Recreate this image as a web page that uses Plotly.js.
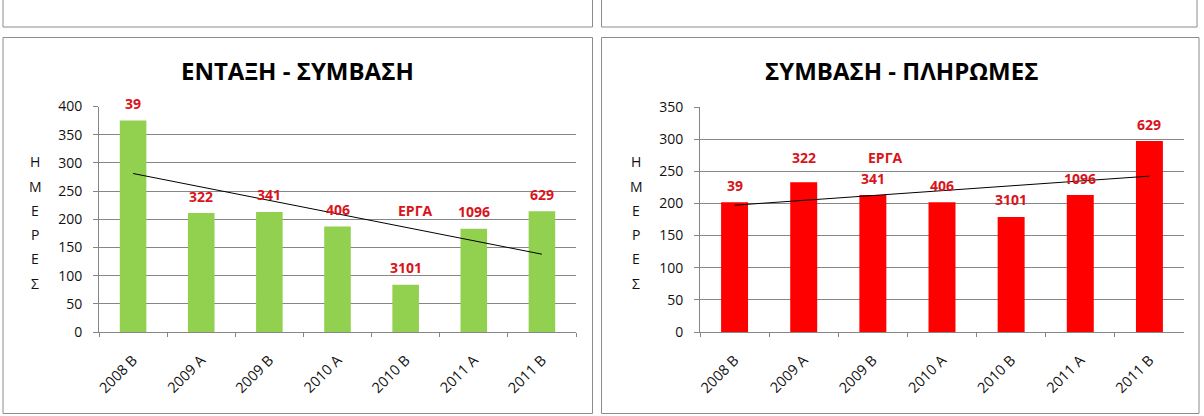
<!DOCTYPE html>
<html>
<head>
<meta charset="utf-8">
<script src="https://cdn.plot.ly/plotly-3.0.1.min.js"></script>
<style>html,body{margin:0;padding:0;background:#fff;}#chart{width:1204px;height:416px;}</style>
</head>
<body>
<div id="chart"></div>
<script>
// ---- data ----
const categories = ['2008 B', '2009 A', '2009 B', '2010 A', '2010 B', '2011 A', '2011 B'];
const entaxiSymvasiDays = [375, 211, 213, 187, 84, 183, 214];
const symvasiPliromesDays = [202, 233, 213, 202, 179, 213, 297];
const projectCounts = ['39', '322', '341', '406', '3101', '1096', '629'];
const leftTitle = 'ΕΝΤΑΞΗ - ΣΥΜΒΑΣΗ';
const rightTitle = 'ΣΥΜΒΑΣΗ - ΠΛΗΡΩΜΕΣ';
const yTitleLetters = ['Η', 'Μ', 'Ε', 'Ρ', 'Ε', 'Σ'];
const projectsWord = 'ΕΡΓΑ';

// ---- helpers ----
const W = 1204, H = 416;
const px = x => x / W;
const py = y => 1 - y / H;
function linearTrend(vals) {
  const n = vals.length;
  const xs = vals.map((_, i) => i);
  const mx = xs.reduce((a, b) => a + b, 0) / n;
  const my = vals.reduce((a, b) => a + b, 0) / n;
  let num = 0, den = 0;
  xs.forEach((x, i) => { num += (x - mx) * (vals[i] - my); den += (x - mx) * (x - mx); });
  const m = num / den, b = my - m * mx;
  return xs.map(x => m * x + b);
}

const FONT = '"Open Sans", "Noto Sans", sans-serif';
const GRID = '#868686';
const LABEL_RED = '#d9141b';
const TEXT = '#111111';

const traces = [
  { type: 'bar', x: categories, y: entaxiSymvasiDays, xaxis: 'x', yaxis: 'y',
    marker: { color: '#92d050' }, width: 0.39, hoverinfo: 'x+y', showlegend: false },
  { type: 'scatter', mode: 'lines', x: categories, y: linearTrend(entaxiSymvasiDays), xaxis: 'x', yaxis: 'y',
    line: { color: '#000000', width: 1 }, showlegend: false, hoverinfo: 'skip' },
  { type: 'bar', x: categories, y: symvasiPliromesDays, xaxis: 'x2', yaxis: 'y2',
    marker: { color: '#ff0000' }, width: 0.39, hoverinfo: 'x+y', showlegend: false },
  { type: 'scatter', mode: 'lines', x: categories, y: linearTrend(symvasiPliromesDays), xaxis: 'x2', yaxis: 'y2',
    line: { color: '#000000', width: 1 }, showlegend: false, hoverinfo: 'skip' }
];

const xCommon = {
  type: 'category', tickangle: -45, showline: true, linecolor: GRID, linewidth: 1,
  ticks: 'outside', ticklen: 4, tickcolor: GRID, tickson: 'boundaries', showgrid: false,
  tickfont: { family: FONT, size: 14.5, color: TEXT }, ticklabelstandoff: 13, fixedrange: true, zeroline: false
};
const yCommon = {
  showline: true, linecolor: GRID, linewidth: 1, ticks: 'outside', ticklen: 5, tickcolor: GRID,
  showgrid: true, gridcolor: GRID, gridwidth: 1, zeroline: false, dtick: 50,
  tickfont: { family: FONT, size: 14, color: TEXT }, ticklabelstandoff: 8, fixedrange: true
};

const annotations = [];
// titles
annotations.push({ xref: 'paper', yref: 'paper', x: px(297), y: py(71), xanchor: 'center', yanchor: 'middle',
  text: leftTitle, showarrow: false, font: { family: FONT, size: 24, color: '#000', weight: 700 } });
annotations.push({ xref: 'paper', yref: 'paper', x: px(901), y: py(71), xanchor: 'center', yanchor: 'middle',
  text: rightTitle, showarrow: false, font: { family: FONT, size: 24, color: '#000', weight: 700 } });
// vertical y titles
yTitleLetters.forEach((ch, i) => {
  [35, 636].forEach(xp => {
    annotations.push({ xref: 'paper', yref: 'paper', x: px(xp), y: py(162 + i * 24.2), xanchor: 'center', yanchor: 'middle',
      text: ch, showarrow: false, font: { family: FONT, size: 14, color: TEXT } });
  });
});
// project count labels
projectCounts.forEach((t, i) => {
  annotations.push({ xref: 'x', yref: 'y', x: i, y: entaxiSymvasiDays[i], yshift: 17, text: t, showarrow: false,
    font: { family: FONT, size: 14, color: LABEL_RED, weight: 700 } });
  annotations.push({ xref: 'x2', yref: 'y2', x: i, y: symvasiPliromesDays[i], yshift: i === 1 ? 25 : 17, text: t, showarrow: false,
    font: { family: FONT, size: 14, color: LABEL_RED, weight: 700 } });
});
annotations.push({ xref: 'x', yref: 'y', x: 4.14, y: 216, text: projectsWord, showarrow: false,
  font: { family: FONT, size: 14, color: LABEL_RED, weight: 700 } });
annotations.push({ xref: 'x2', yref: 'y2', x: 2.18, y: 271, text: projectsWord, showarrow: false,
  font: { family: FONT, size: 14, color: LABEL_RED, weight: 700 } });

const boxLine = { color: '#8c8c8c', width: 1 };
const shapes = [
  { type: 'rect', xref: 'paper', yref: 'paper', x0: px(3), x1: px(592.5), y0: py(413.5), y1: py(37.5), line: boxLine },
  { type: 'rect', xref: 'paper', yref: 'paper', x0: px(601.5), x1: px(1199), y0: py(413.5), y1: py(37.5), line: boxLine },
  { type: 'rect', xref: 'paper', yref: 'paper', x0: px(3), x1: px(592.5), y0: py(27), y1: py(-20), line: boxLine },
  { type: 'rect', xref: 'paper', yref: 'paper', x0: px(601.5), x1: px(1197), y0: py(27), y1: py(-20), line: boxLine }
];

const layout = {
  width: W, height: H, autosize: false,
  margin: { l: 0, r: 0, t: 0, b: 0, pad: 0 },
  paper_bgcolor: '#ffffff', plot_bgcolor: 'rgba(0,0,0,0)',
  showlegend: false,
  xaxis: Object.assign({}, xCommon, { domain: [px(99), px(576)], anchor: 'y' }),
  yaxis: Object.assign({}, yCommon, { domain: [py(332), py(106.5)], range: [0, 400], anchor: 'x' }),
  xaxis2: Object.assign({}, xCommon, { domain: [px(700), px(1184)], anchor: 'y2' }),
  yaxis2: Object.assign({}, yCommon, { domain: [py(332), py(107)], range: [0, 350], anchor: 'x2' }),
  annotations: annotations,
  shapes: shapes
};

Plotly.newPlot('chart', traces, layout, { displayModeBar: false, staticPlot: true });
</script>
</body>
</html>
